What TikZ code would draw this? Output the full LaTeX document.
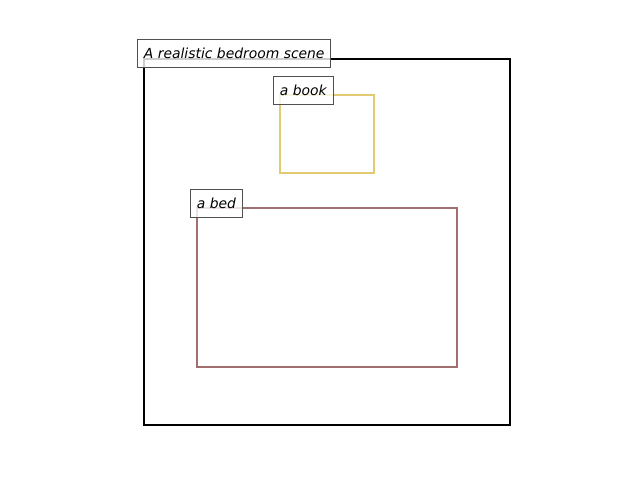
\documentclass[tikz,border=0pt]{standalone}
\usepackage{fontspec}
\setmainfont{DejaVu Sans}
\definecolor{bookc}{RGB}{224,202,114}
\definecolor{bedc}{RGB}{160,112,112}
\definecolor{lblc}{RGB}{80,80,80}
\tikzset{
  region/.style={line width=1.5pt},
  objregion/.style={line width=1.8pt},
  lbl/.style={draw=lblc, line width=0.8pt, fill=white, fill opacity=0.8, text opacity=1,
    anchor=south west, inner xsep=4.6pt, inner ysep=0pt, minimum height=20pt,
    font=\fontsize{10pt}{12pt}\selectfont\itshape}
}
\begin{document}
\begin{tikzpicture}[x=0.72pt,y=-0.72pt]
\useasboundingbox (0,0) rectangle (640,480);
\draw[region, black] (144,59) rectangle (510,425);
\draw[objregion, bookc] (280,95) rectangle (374,173);
\draw[objregion, bedc] (197,208) rectangle (457,367);
\node[lbl] (scene) at (137,68) {A realistic bedroom scene};
\node[lbl] (book) at (273,105) {a book};
\node[lbl] (bed) at (190,218) {a bed};
\end{tikzpicture}
\end{document}
